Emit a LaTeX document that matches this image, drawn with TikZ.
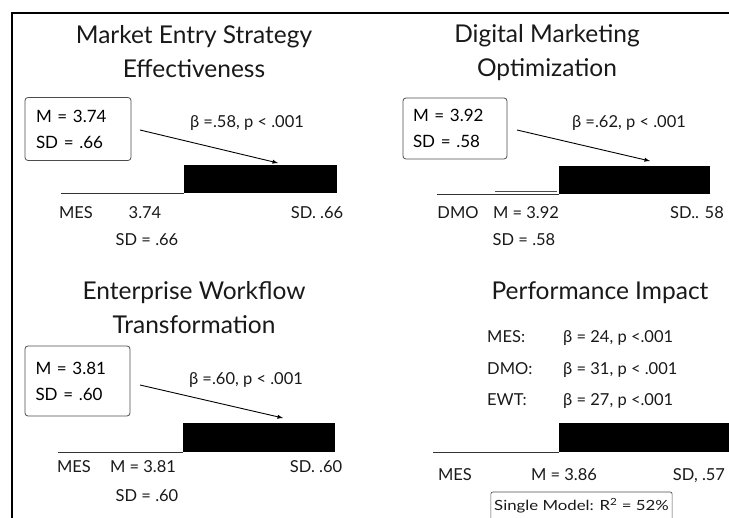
\documentclass[tikz,border=0pt]{standalone}
\usepackage{fontspec}
\setmainfont{Lato}
\begin{document}
\begin{tikzpicture}[x=1pt,y=-1pt,
	title/.style={font=\fontsize{24.5}{34}\selectfont, text=black!90, align=center, inner sep=0pt},
	lab/.style={font=\fontsize{16.5}{18}\selectfont, text=black!90, inner sep=0pt, text height=12pt, text depth=0pt},
	statbox/.style={draw=black!70, line width=0.8pt, rounded corners=3pt, font=\fontsize{17}{26}\selectfont, text=black, align=left, inner xsep=10pt},
	bar/.style={fill=black, inner sep=0pt, anchor=south west},
	axis/.style={line width=0.9pt, black!80},
	arr/.style={-latex, line width=0.9pt}]
	\useasboundingbox (0,0) rectangle (729,518);
	\draw[line width=1.6pt] (729,13) -- (12,13) -- (12,518);
%	Market Entry Strategy
	\node[title] (t1) at (194,52) {Market Entry Strategy\\Effectiveness};
	\node[statbox, minimum width=106pt, minimum height=63pt, text width=84pt] (box1) at (78,129) {M = 3.74\\SD = .66};
	\node[lab] (beta1) at (247,122) {β =.58, p < .001};
	\node[bar, minimum width=153pt, minimum height=28pt] (bar1) at (184,193) {};
	\coordinate (s1) at (140,130);
	\coordinate (e1) at (278,163);
	\draw[arr] (s1) -- (e1);
	\draw[axis] (61,193) -- (bar1.south west);
	\node[lab] (mes1) at (76,213) {MES};
	\node[lab] (m1) at (145,213) {3.74};
	\node[lab] (sd1) at (147,240) {SD = .66};
	\node[lab] (sdr1) at (317,213) {SD. .66};
%	Digital Marketing Optimization
	\node[title] (t2) at (547,53) {Digital Marketing\\Optimization};
	\node[statbox, minimum width=104pt, minimum height=61pt, text width=84pt] (box2) at (455,128.5) {M = 3.92\\SD = .58};
	\node[lab] (beta2) at (629,122) {β =.62, p < .001};
	\node[bar, minimum width=151pt, minimum height=28pt] (bar2) at (559,194) {};
	\coordinate (s2) at (517,130);
	\coordinate (e2) at (650,161);
	\draw[arr] (s2) -- (e2);
	\draw[axis] (437,194) -- (bar2.south west);
	\draw[line width=0.6pt, black!70] (495,191) -- (557,191);
	\node[lab] (dmo2) at (458,213) {DMO};
	\node[lab] (m2) at (526,213) {M = 3.92};
	\node[lab] (sd2) at (524,240) {SD = .58};
	\node[lab] (sdr2) at (697,213) {SD.. 58};
%	Enterprise Workflow Transformation
	\node[title] (t3) at (194,308) {Enterprise Workflow\\Transformation};
	\node[statbox, minimum width=105pt, minimum height=70pt, text width=84pt] (box3) at (77.5,381) {M = 3.81\\SD = .60};
	\node[lab] (beta3) at (246,379) {β =.60, p < .001};
	\node[bar, minimum width=152pt, minimum height=29pt] (bar3) at (183,452) {};
	\coordinate (s3) at (140,385);
	\coordinate (e3) at (283,418);
	\draw[arr] (s3) -- (e3);
	\draw[axis] (58,452) -- (bar3.south west);
	\node[lab] (mes3) at (74,467) {MES};
	\node[lab] (m3) at (143,467) {M = 3.81};
	\node[lab] (sd3) at (147,496) {SD = .60};
	\node[lab] (sdr3) at (316,467) {SD. .60};
%	Performance Impact
	\node[title] (t4) at (600,293) {Performance Impact};
	\node[lab, anchor=west] (k1) at (487,337) {MES:};
	\node[lab, anchor=west] (v1) at (563,337) {β = 24, p <.001};
	\node[lab, anchor=west] (k2) at (487,369) {DMO:};
	\node[lab, anchor=west] (v2) at (563,369) {β = 31, p < .001};
	\node[lab, anchor=west] (k3) at (487,400) {EWT:};
	\node[lab, anchor=west] (v3) at (563,400) {β = 27, p <.001};
	\node[bar, minimum width=175pt, minimum height=29pt] (bar4) at (559,452) {};
	\draw[axis] (433,452) -- (bar4.south west);
	\node[lab] (mes4) at (455,475) {MES};
	\node[lab] (m4) at (564,475) {M = 3.86};
	\node[lab] (sdr4) at (699,475) {SD, .57};
	\node[draw=black!70, line width=0.7pt, rounded corners=2pt, font=\fontsize{14}{16}\selectfont, text=black!90, minimum width=173pt, minimum height=28pt] (r2) at (581.5,506) {\scalebox{1.2}[1]{Single Model: R\textsuperscript{2} = 52\%}};
\end{tikzpicture}
\end{document}
